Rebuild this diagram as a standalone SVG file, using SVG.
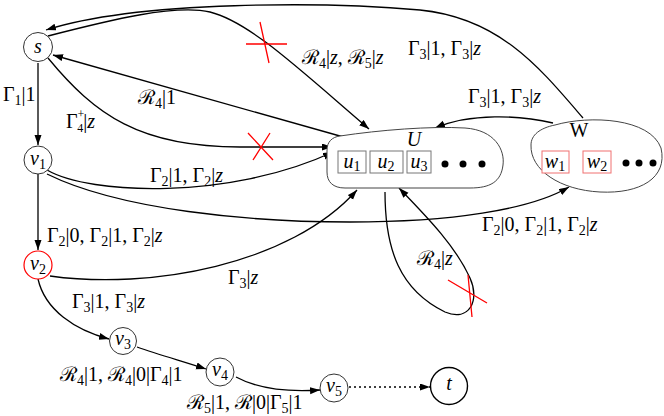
<svg xmlns="http://www.w3.org/2000/svg" width="664" height="416" viewBox="0 0 664 416">
<style>
.l{font-family:"Liberation Serif","Times New Roman","DejaVu Serif",serif;font-size:20px;fill:#000}
.b{font-size:14px}
.sm{font-size:12px}
.i{font-style:italic}
.nd{fill:#fff;stroke:#333;stroke-width:1}
.ea{fill:none;stroke:#000;stroke-width:1.3;marker-end:url(#ah)}
.x{stroke:#f00;stroke-width:1.3;fill:none}
.bx{fill:#fff;stroke:#777;stroke-width:1}
.rbx{fill:#fff;stroke:#f07070;stroke-width:1}
</style>
<defs>
<marker id="ah" markerUnits="userSpaceOnUse" markerWidth="11" markerHeight="8" refX="10" refY="3.5" orient="auto">
<path d="M0,0 L10,3.5 L0,7 z" fill="#000"/>
</marker>
</defs>
<rect width="664" height="416" fill="#fff"/>

<g id="connectors">
<path class="ea" d="M583,118 C540,68 500,18 420,10 C330,2 140,0 46,30"/>
<path class="ea" d="M48,36 C110,20 175,4 210,12 C250,22 300,70 369,129"/>
<path class="ea" d="M347,138 L53,55"/>
<path class="ea" d="M48,58 C95,115 140,147 240,147 L332,147"/>
<path class="ea" d="M47,170 C90,195 230,200 333,152"/>
<path class="ea" d="M47,174 C120,210 250,222 350,222 C450,222 530,210 569,187"/>
<path class="ea" d="M38,63 L38,145"/>
<path class="ea" d="M38,174 L38,250"/>
<path class="ea" d="M50,276 C150,290 290,265 357,190"/>
<path class="ea" d="M553,123 C520,115 470,113 435,128"/>
<path class="ea" d="M385,192 C385,250 400,290 445,312 C470,322 480,300 470,278 C455,245 425,215 399,188"/>
<path class="ea" d="M38,279 C45,310 75,330 109,339"/>
<path class="ea" d="M137,347 C160,355 185,362 206,369"/>
<path class="ea" d="M236,377 C260,390 290,392 320,390"/>
<path fill="none" stroke="#000" stroke-width="1.3" stroke-dasharray="2,3" marker-end="url(#ah)" d="M349,387 L430,387"/>
<path class="x" d="M246,44 L287,44 M260,22 L269,63"/>
<path class="x" d="M248,133 L273,160 M270,133 L253,160"/>
<path class="x" d="M448,280 L487,303 M468,275 L472,317"/>
</g>

<g id="s"><circle class="nd" cx="38" cy="47" r="14.5"/><text class="l i" x="38" y="53" text-anchor="middle">s</text></g>
<g id="v1"><circle class="nd" cx="38" cy="160" r="14"/><text class="l" x="38" y="165" text-anchor="middle"><tspan class="i">v</tspan><tspan class="b" dy="4">1</tspan></text></g>
<g id="v2"><circle cx="38" cy="265" r="14" fill="#fff" stroke="#f00" stroke-width="1.2"/><text class="l" x="38" y="270" text-anchor="middle"><tspan class="i">v</tspan><tspan class="b" dy="4">2</tspan></text></g>
<g id="v3"><circle class="nd" cx="123" cy="341" r="13.5"/><text class="l" x="123" y="345" text-anchor="middle"><tspan class="i">v</tspan><tspan class="b" dy="4">3</tspan></text></g>
<g id="v4"><circle class="nd" cx="220" cy="372" r="14"/><text class="l" x="220" y="376" text-anchor="middle"><tspan class="i">v</tspan><tspan class="b" dy="4">4</tspan></text></g>
<g id="v5"><circle class="nd" cx="334" cy="388" r="14"/><text class="l" x="334" y="392" text-anchor="middle"><tspan class="i">v</tspan><tspan class="b" dy="4">5</tspan></text></g>
<g id="t"><circle cx="449" cy="386" r="18.5" fill="#fff" stroke="#000" stroke-width="1.4"/><text class="l i" x="449" y="390" text-anchor="middle">t</text></g>

<g id="U">
<path fill="#fff" stroke="#444" stroke-width="1" d="M340,136 C380,130 430,126 465,128 C495,130 505,150 503,165 C501,182 490,188 470,188 L345,188 C333,188 327,182 327,172 L327,150 C327,142 332,137 340,136 Z"/>
<text class="l i" x="414" y="146" text-anchor="middle">U</text>
<rect class="bx" x="338" y="151" width="28" height="22"/>
<text class="l" x="352" y="168" text-anchor="middle"><tspan class="i">u</tspan><tspan class="b" dy="3">1</tspan></text>
<rect class="bx" x="370" y="151" width="33" height="22"/>
<text class="l" x="386" y="168" text-anchor="middle"><tspan class="i">u</tspan><tspan class="b" dy="3">2</tspan></text>
<rect class="bx" x="407" y="151" width="24" height="22"/>
<text class="l" x="419" y="168" text-anchor="middle"><tspan class="i">u</tspan><tspan class="b" dy="3">3</tspan></text>
<circle cx="445" cy="164" r="3.5"/><circle cx="463" cy="164" r="3.5"/><circle cx="482" cy="164" r="3.5"/>
</g>

<g id="W">
<path fill="#fff" stroke="#444" stroke-width="1" d="M555,125 C590,115 650,118 661,148 C668,178 640,194 600,192 C560,190 530,170 531,145 C531,135 540,128 555,125 Z"/>
<text class="l" x="579" y="137" text-anchor="middle">W</text>
<rect class="rbx" x="542" y="151" width="27" height="22"/>
<text class="l" x="555" y="168" text-anchor="middle"><tspan class="i">w</tspan><tspan class="b" dy="3">1</tspan></text>
<rect class="rbx" x="583" y="151" width="28" height="22"/>
<text class="l" x="597" y="168" text-anchor="middle"><tspan class="i">w</tspan><tspan class="b" dy="3">2</tspan></text>
<circle cx="626" cy="163" r="3.5"/><circle cx="639" cy="163" r="3.5"/><circle cx="653" cy="163" r="3.5"/>
</g>

<g id="labels">
<text class="l" x="3" y="101">Γ<tspan class="b" dy="4">1</tspan><tspan dy="-4">|1</tspan></text>
<text class="l" x="66" y="128">Γ<tspan class="sm" dy="-10">+</tspan><tspan class="sm" dx="-7" dy="14">4</tspan><tspan dy="-4">|</tspan><tspan class="i">z</tspan></text>
<text class="l" x="138" y="104">ℛ<tspan class="b" dy="4">4</tspan><tspan dy="-4">|1</tspan></text>
<text class="l" x="302" y="64">ℛ<tspan class="b" dy="4">4</tspan><tspan dy="-4">|</tspan><tspan class="i">z</tspan>, ℛ<tspan class="b" dy="4">5</tspan><tspan dy="-4">|</tspan><tspan class="i">z</tspan></text>
<text class="l" x="408" y="55">Γ<tspan class="b" dy="4">3</tspan><tspan dy="-4">|1, Γ</tspan><tspan class="b" dy="4">3</tspan><tspan dy="-4">|</tspan><tspan class="i">z</tspan></text>
<text class="l" x="468" y="103">Γ<tspan class="b" dy="4">3</tspan><tspan dy="-4">|1, Γ</tspan><tspan class="b" dy="4">3</tspan><tspan dy="-4">|</tspan><tspan class="i">z</tspan></text>
<text class="l" x="150" y="182">Γ<tspan class="b" dy="4">2</tspan><tspan dy="-4">|1, Γ</tspan><tspan class="b" dy="4">2</tspan><tspan dy="-4">|</tspan><tspan class="i">z</tspan></text>
<text class="l" x="47" y="242">Γ<tspan class="b" dy="4">2</tspan><tspan dy="-4">|0, Γ</tspan><tspan class="b" dy="4">2</tspan><tspan dy="-4">|1, Γ</tspan><tspan class="b" dy="4">2</tspan><tspan dy="-4">|</tspan><tspan class="i">z</tspan></text>
<text class="l" x="482" y="231">Γ<tspan class="b" dy="4">2</tspan><tspan dy="-4">|0, Γ</tspan><tspan class="b" dy="4">2</tspan><tspan dy="-4">|1, Γ</tspan><tspan class="b" dy="4">2</tspan><tspan dy="-4">|</tspan><tspan class="i">z</tspan></text>
<text class="l" x="228" y="284">Γ<tspan class="b" dy="4">3</tspan><tspan dy="-4">|</tspan><tspan class="i">z</tspan></text>
<text class="l" x="72" y="308">Γ<tspan class="b" dy="4">3</tspan><tspan dy="-4">|1, Γ</tspan><tspan class="b" dy="4">3</tspan><tspan dy="-4">|</tspan><tspan class="i">z</tspan></text>
<text class="l" x="60" y="381">ℛ<tspan class="b" dy="4">4</tspan><tspan dy="-4">|1, ℛ</tspan><tspan class="b" dy="4">4</tspan><tspan dy="-4">|0|Γ</tspan><tspan class="b" dy="4">4</tspan><tspan dy="-4">|1</tspan></text>
<text class="l" x="187" y="409">ℛ<tspan class="b" dy="4">5</tspan><tspan dy="-4">|1, ℛ|0|Γ</tspan><tspan class="b" dy="4">5</tspan><tspan dy="-4">|1</tspan></text>
<text class="l" x="417" y="265">ℛ<tspan class="b" dy="4">4</tspan><tspan dy="-4">|</tspan><tspan class="i">z</tspan></text>
</g>
</svg>
